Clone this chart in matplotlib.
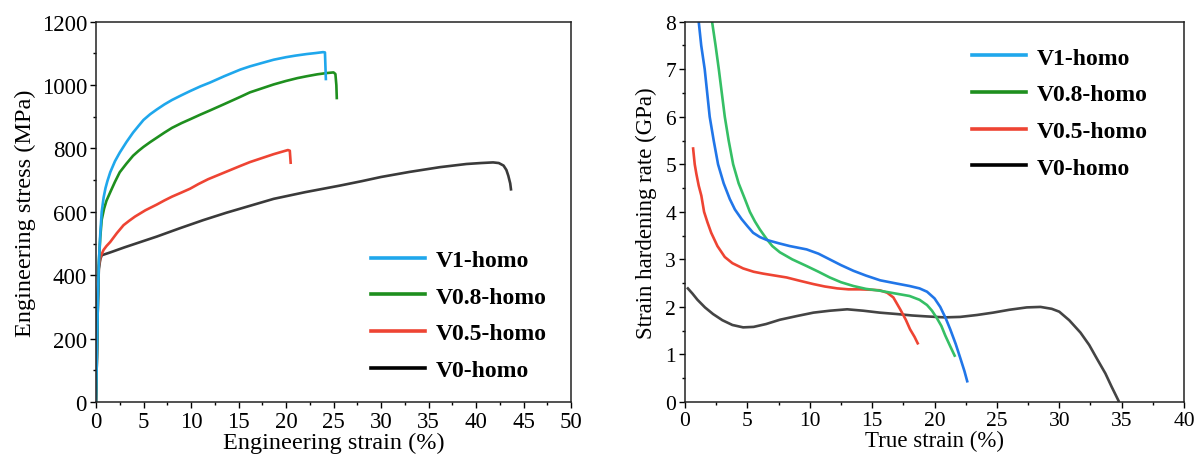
import matplotlib
matplotlib.use("Agg")
import matplotlib.pyplot as plt
from matplotlib.lines import Line2D
from matplotlib.ticker import MultipleLocator

plt.rcParams['font.family'] = ['Liberation Serif', 'DejaVu Serif']

labels = ["V1-homo", "V0.8-homo", "V0.5-homo", "V0-homo"]

# ---- Left panel: engineering stress-strain (strain %, stress MPa) ----
v1_eng_strain = [0, 0.1, 0.2, 0.3, 0.45, 0.6, 0.8, 1.0, 1.2, 1.5, 2.0, 2.5, 3.2, 3.9, 4.5, 5, 5.7, 6.4, 7.2, 8, 9,
                 9.9, 11, 12, 13.5, 15.2, 16.2, 17.5, 18.7, 20, 21, 22.2, 23.1, 23.9, 24.1, 24.2]
v1_eng_stress = [0, 150, 320, 440, 530, 600, 645, 675, 697, 725, 760, 787, 820, 850, 872, 890, 908, 923, 939, 953, 968,
                 981, 996, 1008, 1028, 1049, 1059, 1070, 1080, 1088, 1093, 1098, 1101, 1104, 1103, 1015]

v08_eng_strain = [0, 0.1, 0.2, 0.3, 0.45, 0.6, 0.85, 1.1, 1.5, 2.0, 2.5, 3.2, 3.9, 4.5, 5, 5.7, 6.4, 7.2, 8, 9, 9.9,
                  11, 12, 13.5, 15.2, 16.2, 17.5, 18.7, 20, 21.2, 22.2, 23.3, 24.3, 25.0, 25.2, 25.3, 25.35]
v08_eng_stress = [0, 150, 320, 440, 520, 575, 610, 635, 662, 695, 725, 752, 777, 793, 805, 820, 834, 850, 865, 880, 892,
                  907, 920, 940, 963, 977, 990, 1002, 1013, 1022, 1028, 1034, 1038, 1040, 1035, 1000, 955]

v05_eng_strain = [0, 0.1, 0.2, 0.3, 0.5, 0.8, 1.1, 1.5, 2.2, 2.9, 3.5, 4.1, 5.2, 6.4, 7.2, 8, 9, 9.9, 10.8, 11.8,
                  13.5, 15.2, 16.2, 17.5, 18.7, 19.5, 20.2, 20.4, 20.5]
v05_eng_stress = [0, 150, 320, 430, 460, 480, 492, 505, 533, 558, 572, 585, 605, 623, 636, 648, 661, 673, 688, 703,
                  724, 745, 757, 770, 782, 789, 795, 793, 751]

v0_eng_strain = [0, 0.1, 0.2, 0.3, 0.45, 0.6, 1.5, 3, 4.7, 6.4, 8.8, 11.3, 13.7, 16.2, 18.7, 22, 25.7, 28, 30, 33,
                 36.2, 39, 40.5, 41.8, 42.4, 42.9, 43.2, 43.4, 43.6, 43.7]
v0_eng_stress = [0, 150, 320, 420, 450, 463, 472, 488, 505, 522, 548, 574, 597, 619, 641, 662, 683, 697, 710, 726,
                 741, 751, 754, 756, 754, 746, 732, 714, 690, 667]

# ---- Right panel: strain hardening rate (true strain %, GPa) ----
v1_true_strain = [1.1, 1.3, 1.58, 1.78, 1.98, 2.3, 2.65, 3.1, 3.59, 4.0, 4.53, 5.0, 5.46, 6.0, 6.54, 7.5, 8.4, 9.75,
                  10.7, 11.6, 12.5, 13.5, 14.5, 15.64, 17.0, 18.0, 18.8, 19.4, 20.0, 20.46, 20.9, 21.26, 21.7,
                  22.06, 22.4, 22.65]
v1_rate = [8.0, 7.5, 7.0, 6.5, 6.0, 5.5, 5.0, 4.6, 4.27, 4.05, 3.85, 3.7, 3.56, 3.47, 3.41, 3.34, 3.28, 3.21,
           3.12, 3.0, 2.88, 2.76, 2.66, 2.56, 2.49, 2.44, 2.39, 2.32, 2.18, 2.0, 1.76, 1.53, 1.22,
           0.93, 0.65, 0.41]

v08_true_strain = [2.17, 2.45, 2.71, 2.95, 3.19, 3.5, 3.86, 4.3, 4.8, 5.2, 5.6, 6.0, 6.54, 7.0, 7.6, 8.6, 9.75,
                   10.7, 11.6, 12.5, 13.5, 14.5, 15.64, 16.7, 18.0, 18.8, 19.4, 19.8, 20.2, 20.55, 20.86, 21.3, 21.66]
v08_rate = [8.0, 7.5, 7.0, 6.5, 6.0, 5.5, 5.0, 4.6, 4.27, 4.0, 3.8, 3.63, 3.43, 3.28, 3.15, 3.0, 2.86,
            2.74, 2.62, 2.52, 2.44, 2.38, 2.34, 2.29, 2.23, 2.15, 2.04, 1.92, 1.76, 1.6, 1.40, 1.15, 0.95]

v05_true_strain = [0.64, 0.78, 0.91, 1.1, 1.31, 1.53, 1.8, 2.1, 2.6, 3.19, 3.8, 4.66, 5.5, 6.27, 7.2, 8.14, 9.2,
                   10.3, 11.2, 12.2, 13.1, 14.0, 15.0, 15.6, 16.2, 16.7, 17.25, 17.7, 18.04, 18.4, 18.7]
v05_rate = [5.36, 5.0, 4.8, 4.55, 4.34, 4.0, 3.78, 3.56, 3.28, 3.05, 2.92, 2.81, 2.74, 2.70, 2.66, 2.62, 2.55,
            2.48, 2.43, 2.39, 2.37, 2.37, 2.36, 2.35, 2.30, 2.2, 1.95, 1.73, 1.53, 1.37, 1.21]

v0_true_strain = [0.16, 0.6, 1.0, 1.6, 2.25, 3.0, 3.8, 4.66, 5.5, 6.5, 7.6, 9.0, 10.3, 11.6, 13.0, 14.3, 15.6, 17.0,
                  18.2, 19.4, 20.8, 22.06, 23.4, 24.7, 26.0, 27.4, 28.5, 29.4, 30.0, 30.8, 31.7, 32.4, 33.0,
                  33.7, 34.2, 34.8]
v0_rate = [2.41, 2.28, 2.15, 1.99, 1.85, 1.72, 1.62, 1.57, 1.58, 1.64, 1.73, 1.81, 1.88, 1.92, 1.95, 1.92, 1.88, 1.85,
           1.82, 1.80, 1.78, 1.79, 1.83, 1.88, 1.94, 1.99, 2.0, 1.96, 1.9, 1.72, 1.46, 1.2, 0.92,
           0.6, 0.32, 0.0]

left_colors = ['#1FA7EC', '#1E8F1E', '#EE4433', '#3A3A3A']
right_colors = ['#2176E8', '#35BF65', '#EE4433', '#444444']
legend_colors = ['#1FA7EC', '#1E8F1E', '#EE4433', '#000000']

fig = plt.figure(figsize=(11.97, 4.64), dpi=100)
axL = fig.add_axes([96/1197, 1-403/464, (571-96)/1197, (403-22.7)/464])
axR = fig.add_axes([685/1197, 1-403/464, (1184-685)/1197, (403-22.7)/464])

lw = 1.9
eng = [(v1_eng_strain, v1_eng_stress), (v08_eng_strain, v08_eng_stress),
       (v05_eng_strain, v05_eng_stress), (v0_eng_strain, v0_eng_stress)]
for (x, y), c in zip(eng[::-1], left_colors[::-1]):
    axL.plot(x, y, color=c, lw=lw, solid_joinstyle='round', solid_capstyle='butt')

tru = [(v1_true_strain, v1_rate), (v08_true_strain, v08_rate),
       (v05_true_strain, v05_rate), (v0_true_strain, v0_rate)]
for (x, y), c in zip(tru[::-1], right_colors[::-1]):
    axR.plot(x, y, color=c, lw=lw, solid_joinstyle='round', solid_capstyle='butt')

axL.set_xlim(0, 50)
axL.set_ylim(0, 1200)
axL.xaxis.set_major_locator(MultipleLocator(5))
axL.xaxis.set_minor_locator(MultipleLocator(2.5))
axL.yaxis.set_major_locator(MultipleLocator(200))
axL.yaxis.set_minor_locator(MultipleLocator(100))
axL.set_xlabel("Engineering strain (%)", fontsize=17.5, labelpad=0)
axL.set_ylabel("Engineering stress (MPa)", fontsize=17.5, labelpad=4)

axR.set_xlim(0, 40)
axR.set_ylim(0, 8)
axR.xaxis.set_major_locator(MultipleLocator(5))
axR.xaxis.set_minor_locator(MultipleLocator(2.5))
axR.yaxis.set_major_locator(MultipleLocator(1))
axR.yaxis.set_minor_locator(MultipleLocator(0.5))
axR.set_xlabel("True strain (%)", fontsize=16.5, labelpad=0)
axR.set_ylabel("Strain hardening rate (GPa)", fontsize=16.5, labelpad=6)

for ax, fs in ((axL, 16.5), (axR, 15.5)):
    ax.tick_params(which='major', direction='out', length=4.5, width=1, labelsize=fs, pad=2,
                   top=False, right=False)
    ax.tick_params(which='minor', direction='out', length=2.3, width=1, top=False, right=False)
    for s in ax.spines.values():
        s.set_linewidth(1.1)
        s.set_color('#222222')

handles = [Line2D([0], [0], color=c, lw=2.6) for c in legend_colors]
legkw = dict(frameon=False, handlelength=2.3, handletextpad=0.45, labelspacing=0.64,
             borderpad=0, borderaxespad=0, loc='upper left',
             prop={'family': ['Liberation Serif'], 'weight': 'bold', 'size': 17})
axL.legend(handles, labels, bbox_to_anchor=(0.578, 0.401), **legkw)
axR.legend(handles, labels, bbox_to_anchor=(0.575, 0.933), **legkw)

fig.savefig("out.png", dpi=100)
